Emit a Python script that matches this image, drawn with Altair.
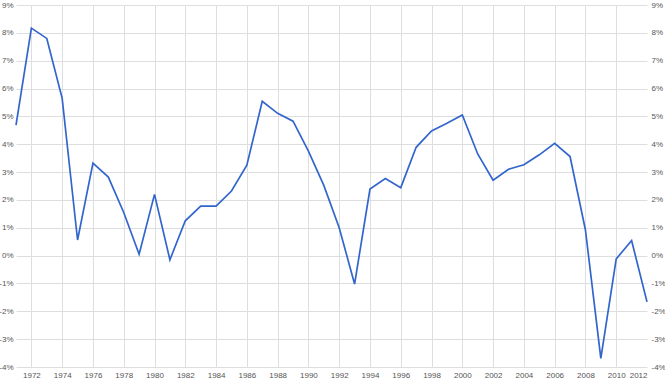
import altair as alt
import pandas as pd

years = list(range(1971, 2013))
growth = [4.69, 8.17, 7.80, 5.65, 0.56, 3.32, 2.82, 1.55, 0.05, 2.20,
          -0.15, 1.25, 1.78, 1.78, 2.32, 3.25, 5.54, 5.11, 4.83, 3.75,
          2.52, 1.00, -1.02, 2.39, 2.77, 2.44, 3.89, 4.48, 4.75, 5.05,
          3.65, 2.71, 3.10, 3.26, 3.62, 4.03, 3.56, 0.92, -3.69, -0.12,
          0.54, -1.66]
x_ticks = list(range(1972, 2013, 2))
y_ticks = list(range(-4, 10))

df = pd.DataFrame({"year": years, "growth": growth})

FONT = "Liberation Sans"
LABEL_COLOR = "#555555"
GRID = "#dedede"

x_enc = alt.X(
    "year:Q",
    scale=alt.Scale(domain=[1971, 2012], nice=False, zero=False),
    axis=alt.Axis(
        values=x_ticks, format="d", title=None, grid=True, gridColor=GRID,
        gridOpacity={"condition": {"test": "datum.value === 2012", "value": 0}, "value": 1},
        labelAlign={"condition": {"test": "datum.value === 2012", "value": "right"}, "value": "center"},
        domain=False, ticks=False, labelPadding=4, labelFontSize=8,
        labelColor=LABEL_COLOR, labelFont=FONT,
    ),
)
yscale = alt.Scale(domain=[-4, 9], nice=False, zero=False)

left = alt.Chart(df).mark_line(color="#3366cc", strokeWidth=1.7).encode(
    x=x_enc,
    y=alt.Y(
        "growth:Q", scale=yscale,
        axis=alt.Axis(
            values=y_ticks, labelExpr="datum.value + '%'", title=None,
            grid=True, gridColor=GRID, domain=False, ticks=False,
            labelPadding=3, labelFontSize=8, labelColor=LABEL_COLOR, labelFont=FONT,
        ),
    ),
)
right = alt.Chart(df).mark_line(opacity=0).encode(
    x=x_enc,
    y=alt.Y(
        "growth:Q", scale=yscale,
        axis=alt.Axis(
            orient="right", values=y_ticks, labelExpr="datum.value + '%'", title=None,
            grid=False, domain=False, ticks=False,
            labelPadding=4, labelFontSize=8, labelColor=LABEL_COLOR, labelFont=FONT,
        ),
    ),
)

chart = (
    alt.layer(right, left)
    .resolve_scale(y="independent")
    .properties(
        width=631, height=362,
        autosize=alt.AutoSizeParams(type="none"),
        padding={"left": 16, "top": 5, "right": 18, "bottom": 13},
        background="white",
    )
    .configure_view(stroke=None)
)

chart.save("out.html", embed_options={"renderer": "svg", "actions": False})
